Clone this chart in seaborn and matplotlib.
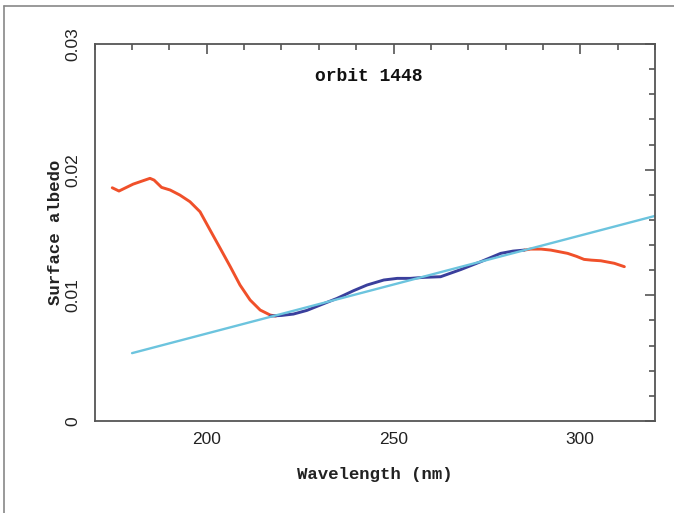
import matplotlib
matplotlib.use("Agg")
import matplotlib.pyplot as plt
from matplotlib.lines import Line2D
from matplotlib.ticker import MultipleLocator, FixedLocator
import seaborn as sns
import pandas as pd

# Retrieved surface albedo, short-wave segment
red_short_nm = [174.7, 176.5, 180.3, 184.8, 185.9, 187.9, 190.2, 192.8, 195.5,
                198.2, 200.9, 203.6, 206.3, 208.9, 211.6, 214.3, 217.0, 218.5]
red_short_alb = [0.01856, 0.01830, 0.01885, 0.01931, 0.01917, 0.01859, 0.01838,
                 0.01798, 0.01745, 0.01665, 0.01519, 0.01374, 0.01228, 0.01082,
                 0.00963, 0.00883, 0.00843, 0.00835]

# Fitting window
blue_nm = [217.0, 220.0, 223.2, 226.8, 230.4, 234.9, 239.3, 242.9, 247.4, 251.0,
           254.5, 258.1, 262.6, 268.0, 273.3, 278.7, 282.0, 285.0]
blue_alb = [0.00835, 0.00840, 0.00851, 0.00880, 0.00923, 0.00976, 0.01037,
            0.01082, 0.01122, 0.01135, 0.01135, 0.01143, 0.01148, 0.01205,
            0.01267, 0.01334, 0.01352, 0.01360]

# Retrieved surface albedo, long-wave segment
red_long_nm = [285.0, 286.7, 289.5, 292.1, 296.6, 299.0, 301.0, 303.0, 305.5,
               309.1, 311.8]
red_long_alb = [0.01360, 0.01368, 0.01368, 0.01360, 0.01334, 0.01310, 0.01286,
                0.01280, 0.01275, 0.01255, 0.01228]

# Linear fit
fit_nm = [180.0, 320.0]
fit_alb = [0.0054, 0.01632]

x_ticks = [200, 250, 300]
y_ticks = [0, 0.01, 0.02, 0.03]
y_tick_labels = ["0", "0.01", "0.02", "0.03"]

sns.set_style("white")
plt.rcParams["font.family"] = ["Liberation Sans", "DejaVu Sans"]

fig = plt.figure(figsize=(6.74, 5.13), dpi=100)
ax = fig.add_axes([94.7 / 674, 1 - 421 / 513, (655 - 94.7) / 674, (421 - 44) / 513])

RED = "#f0502a"
BLUE = "#3a3f9c"
CYAN = "#6cc4de"

def draw(xs, ys, color, lw):
    df = pd.DataFrame({"nm": xs, "alb": ys})
    sns.lineplot(data=df, x="nm", y="alb", ax=ax, color=color, linewidth=lw,
                 estimator=None, sort=False)

draw(red_short_nm, red_short_alb, RED, 2.1)
draw(red_long_nm, red_long_alb, RED, 2.1)
draw(blue_nm, blue_alb, BLUE, 2.1)
draw(fit_nm, fit_alb, CYAN, 1.7)

ax.set_xlim(170, 320)
ax.set_ylim(0, 0.03)

ax.xaxis.set_major_locator(FixedLocator(x_ticks))
ax.xaxis.set_minor_locator(MultipleLocator(10))
ax.yaxis.set_major_locator(FixedLocator(y_ticks))
ax.yaxis.set_minor_locator(MultipleLocator(0.002))
ax.set_xticklabels([str(v) for v in x_ticks])
ax.set_yticklabels(y_tick_labels, rotation=90, va="center")

spine_col = "#555555"
for s in ax.spines.values():
    s.set_color(spine_col)
    s.set_linewidth(1.3)
    s.set_visible(True)

ax.tick_params(which="both", direction="in", top=True, right=True,
               color=spine_col, width=1.2)
ax.tick_params(which="major", length=7, labelsize=12.5, labelcolor="#222222", pad=8)
ax.tick_params(which="minor", length=4)
ax.tick_params(axis="y", which="major", pad=10)

mono = ["Liberation Mono", "DejaVu Sans Mono"]
ax.set_xlabel("Wavelength (nm)", fontfamily=mono, fontweight="bold",
              fontsize=12.5, color="#222222", labelpad=14)
ax.set_ylabel("Surface albedo", fontfamily=mono, fontweight="bold",
              fontsize=12.5, color="#222222", labelpad=2)
ax.text(0.49, 0.915, "orbit 1448", transform=ax.transAxes, ha="center",
        va="center", fontfamily=mono, fontweight="bold", fontsize=13,
        color="#111111")

# Outer panel frame (top and left edges)
fig.add_artist(Line2D([4 / 674, 4 / 674], [0, 1 - 6 / 513],
                      transform=fig.transFigure, color="#888888", lw=1.2))
fig.add_artist(Line2D([4 / 674, 1], [1 - 6 / 513, 1 - 6 / 513],
                      transform=fig.transFigure, color="#888888", lw=1.2))

fig.savefig("out.png", dpi=100)
